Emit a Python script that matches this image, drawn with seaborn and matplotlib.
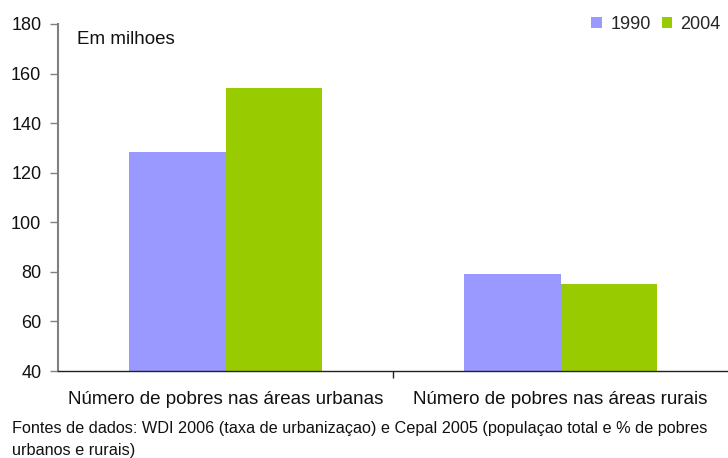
import matplotlib
matplotlib.use('Agg')
import matplotlib.pyplot as plt
import seaborn as sns
import pandas as pd

# data (millions)
categories = ["Número de pobres nas áreas urbanas", "Número de pobres nas áreas rurais"]
years = ["1990", "2004"]
values_1990 = [128.5, 79.2]
values_2004 = [154.3, 75.2]
yticks = [40, 60, 80, 100, 120, 140, 160, 180]

df = pd.DataFrame({
    "categoria": categories * 2,
    "ano": [years[0]] * 2 + [years[1]] * 2,
    "valor": values_1990 + values_2004,
})

sns.set_theme(style="white")
plt.rcParams['font.family'] = ['Liberation Sans', 'DejaVu Sans']

fig = plt.figure(figsize=(7.28, 4.58), dpi=100)
ax = fig.add_axes([58 / 728, 1 - 371 / 458, 670 / 728, 347 / 458])

palette = {"1990": "#9999FF", "2004": "#99CC00"}
sns.barplot(data=df, x="categoria", y="valor", hue="ano", palette=palette,
            width=0.575, saturation=1, linewidth=0, ax=ax, legend=True)

ax.set_ylim(40, 180)
ax.set_xlim(-0.5, 1.5)
ax.set_yticks(yticks)
ax.set_yticklabels([str(t) for t in yticks], fontsize=13, color="#111111")
ax.set_xlabel("")
ax.set_ylabel("")
ax.set_xticks([0.5])
ax.set_xticklabels([""])
ax.tick_params(axis="y", direction="out", length=6, width=1, color="#808080", left=True, pad=6)
ax.tick_params(axis="x", direction="out", length=5, width=1, color="#222222", bottom=True)
for i, c in enumerate(categories):
    ax.text(i, -0.057, c, transform=ax.get_xaxis_transform(), ha="center", va="top",
            fontsize=13.5, color="#111111")

for s in ["top", "right"]:
    ax.spines[s].set_visible(False)
ax.spines["left"].set_color("#808080")
ax.spines["left"].set_linewidth(1.5)
ax.spines["bottom"].set_color("#222222")
ax.spines["bottom"].set_linewidth(1)

ax.text(0.028, 0.955, "Em milhoes", transform=ax.transAxes, ha="left", va="center",
        fontsize=13.5, color="#111111")

leg = ax.legend(loc="upper right", bbox_to_anchor=(1.0, 1.045), ncol=2, frameon=False,
                fontsize=13, handlelength=0.6, handleheight=0.6, handletextpad=0.45,
                columnspacing=0.6, borderaxespad=0)

foot_font = ['Liberation Sans Narrow', 'Liberation Sans', 'DejaVu Sans']
fig.text(12 / 728, 1 - 428 / 458, "Fontes de dados: WDI 2006 (taxa de urbanizaçao) e Cepal 2005 (populaçao total e % de pobres",
         ha="left", va="center", fontsize=11.7, color="#111111", family=foot_font)
fig.text(12 / 728, 1 - 451 / 458, "urbanos e rurais)",
         ha="left", va="center", fontsize=11.7, color="#111111", family=foot_font)

fig.savefig("out.png", dpi=100)
plt.close(fig)
